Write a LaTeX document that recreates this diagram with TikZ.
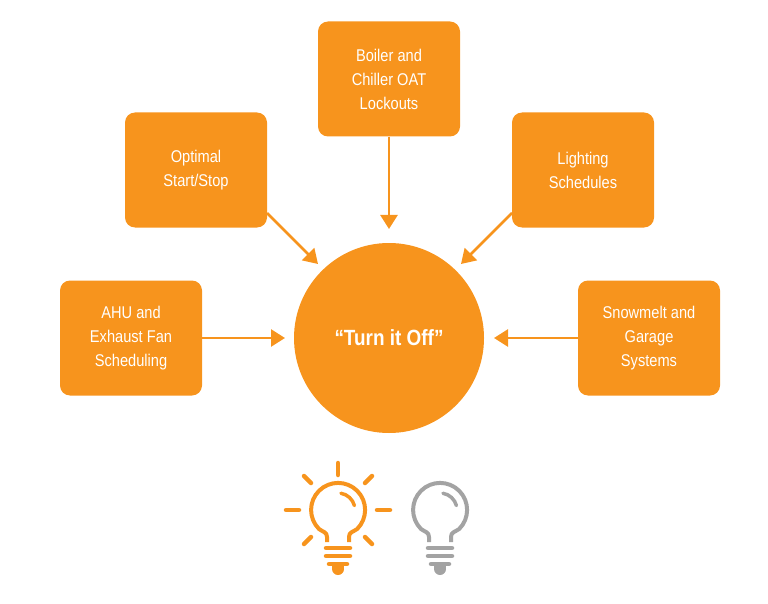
\documentclass[tikz,border=0pt]{standalone}
\usepackage{fontspec}
\setmainfont[FakeStretch=0.86]{Liberation Sans}
\usetikzlibrary{arrows.meta}
\definecolor{org}{HTML}{F7941D}
\definecolor{gry}{HTML}{A3A3A3}
\begin{document}
\begin{tikzpicture}[x=1pt,y=-1pt,
  box/.style={fill=org,rounded corners=10pt,minimum width=142pt,minimum height=115pt,text=white,align=center,font=\fontsize{17}{24}\selectfont},
  arr/.style={draw=org,line width=2.6pt,-{Triangle[length=14pt,width=17pt]}},
  bl/.style={line width=4.5pt,line cap=round}]
\useasboundingbox (0,0) rectangle (768,604);
\node[box] (b) at (389,79) {Boiler and\\Chiller OAT\\Lockouts};
\node[box] (o) at (196,170) {Optimal\\Start/Stop};
\node[box] (l) at (583,170) {Lighting\\Schedules};
\node[box] (a) at (131,338) {AHU and\\Exhaust Fan\\Scheduling};
\node[box] (s) at (649,338) {Snowmelt and\\Garage\\Systems};
\node[circle,fill=org,minimum size=190pt,text=white,font=\bfseries\fontsize{22}{26}\selectfont] (c) at (389,338) {“Turn it Off”};
\coordinate (o1) at (267,213); \coordinate (o2) at (318,264);
\coordinate (l1) at (512,213); \coordinate (l2) at (461,264);
\draw[arr] (b.south) -- (389,229);
\draw[arr] (o1) -- (o2);
\draw[arr] (l1) -- (l2);
\draw[arr] (a.east) -- (285,338);
\draw[arr] (s.west) -- (494,338);
\foreach \dx/\col in {0/org,102/gry}{
 \begin{scope}[xshift=\dx pt,draw=\col]
  \draw[line width=4pt,line join=round] (327,542) -- (327,537) .. controls (327,532) and (323,532) .. (319,529)
    arc[start angle=135,end angle=405,radius=27] .. controls (353,532) and (349,532) .. (349,537) -- (349,542);
  \draw[line width=3.5pt,line cap=round] (338,510) ++(-80:17) arc[start angle=-80,end angle=-15,radius=17];
  \draw[bl] (326,548) -- (350,548);
  \draw[bl] (326,556) -- (350,556);
  \draw[bl] (329,564) -- (347,564);
  \fill[\col] (332,566) rectangle (344,570);
  \fill[\col] (332,569) arc[start angle=180,end angle=0,radius=6];
 \end{scope}}
\begin{scope}[draw=org]
 \draw[bl] (338,463) -- (338,475);
 \draw[bl] (286,510) -- (299,510);
 \draw[bl] (377,510) -- (390,510);
 \draw[bl] (304,476) -- (311,483);
 \draw[bl] (372,476) -- (365,483);
 \draw[bl] (304,544) -- (311,537);
 \draw[bl] (372,544) -- (365,537);
\end{scope}
\end{tikzpicture}
\end{document}
